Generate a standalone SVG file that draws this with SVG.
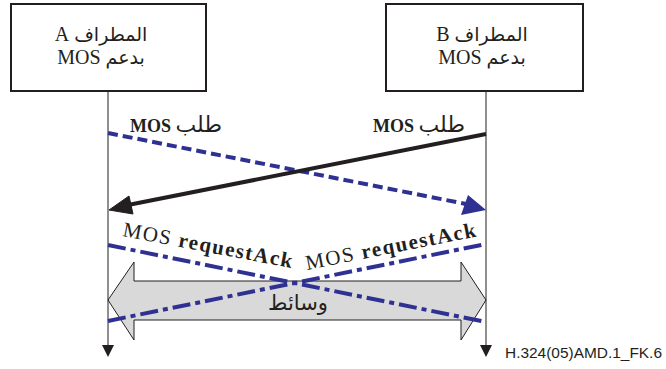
<svg xmlns="http://www.w3.org/2000/svg" width="666" height="369" viewBox="0 0 666 369">
  <defs>
    <style>
      .box { fill: #ffffff; stroke: #231f20; stroke-width: 2; }
      .life { stroke: #231f20; stroke-width: 1; fill: none; }
      .t { font-family: "Liberation Serif", "DejaVu Serif", "DejaVu Sans", serif; fill: #231f20; }
      .ar { font-family: "DejaVu Sans", "Noto Sans", sans-serif; }
      .lbl { font-size: 20px; text-anchor: middle; }
      .b { font-weight: bold; }
      .req { stroke: #2e3192; stroke-width: 4; fill: none; stroke-dasharray: 10 5; }
      .rsp { stroke: #231f20; stroke-width: 4; fill: none; }
      .ack { stroke: #2e3192; stroke-width: 4; fill: none; stroke-dasharray: 18 5 5 5; }
      .media { fill: #d9d9d9; stroke: #231f20; stroke-width: 1; }
      .foot { font-family: "Liberation Sans", Arial, sans-serif; font-size: 15px; fill: #231f20; }
    </style>
  </defs>

  <!-- Media exchange (double block arrow) -->
  <g id="media">
    <path class="media" d="M108,300 L134,262 L134,281 L461,281 L461,262 L486,300 L461,340 L461,320 L134,320 L134,340 Z"/>
  </g>

  <!-- Terminal A -->
  <g id="terminalA">
    <rect class="box" x="11" y="4" width="195" height="87"/>
    <text class="t lbl" x="101" y="41" direction="rtl"><tspan class="ar" font-size="19">المطراف</tspan> A</text>
    <text class="t lbl" x="101" y="64" direction="rtl"><tspan class="ar" font-size="19">بدعم</tspan> MOS</text>
  </g>

  <!-- Terminal B -->
  <g id="terminalB">
    <rect class="box" x="386" y="4" width="197" height="87"/>
    <text class="t lbl" x="482" y="41" direction="rtl"><tspan class="ar" font-size="19">المطراف</tspan> B</text>
    <text class="t lbl" x="482" y="64" direction="rtl"><tspan class="ar" font-size="19">بدعم</tspan> MOS</text>
  </g>

  <!-- Lifelines and messages -->
  <g id="connectors">
    <line class="life" x1="108" y1="91" x2="108" y2="345"/>
    <path d="M102,345 L114,345 L108,357 Z" fill="#231f20"/>
    <line class="life" x1="486" y1="91" x2="486" y2="345"/>
    <path d="M480,345 L492,345 L486,357 Z" fill="#231f20"/>

    <!-- MOS request A to B -->
    <line class="req" x1="108" y1="133" x2="466" y2="204"/>
    <path d="M486,210 L461,215 L468,195 Z" fill="#2e3192"/>

    <!-- MOS request B to A -->
    <line class="rsp" x1="486" y1="134" x2="128" y2="205"/>
    <path d="M109,210 L129,196 L133,214 Z" fill="#231f20" stroke="#231f20" stroke-width="1"/>

    <!-- requestAck lines -->
    <line class="ack" x1="108" y1="245" x2="486" y2="322"/>
    <line class="ack" x1="108" y1="321" x2="486" y2="244"/>
  </g>

  <!-- Labels -->
  <g id="labels">
    <text class="t" x="130" y="132" font-size="18" direction="ltr"><tspan class="b">MOS</tspan> <tspan class="ar" font-size="22">طلب</tspan></text>
    <text class="t" x="373" y="132" font-size="18" direction="ltr"><tspan class="b">MOS</tspan> <tspan class="ar" font-size="22">طلب</tspan></text>
    <text class="t" x="0" y="0" font-size="21" transform="translate(122,236) rotate(10.7)" textLength="172" lengthAdjust="spacing">MOS <tspan class="b">requestAck</tspan></text>
    <text class="t" x="0" y="0" font-size="21" transform="translate(307,270) rotate(-11.2)" textLength="173" lengthAdjust="spacing">MOS <tspan class="b">requestAck</tspan></text>
    <text class="t ar" x="298" y="310" font-size="21" text-anchor="middle">وسائط</text>
    <text class="foot" x="505" y="358" textLength="157" lengthAdjust="spacingAndGlyphs">H.324(05)AMD.1_FK.6</text>
  </g>
</svg>
